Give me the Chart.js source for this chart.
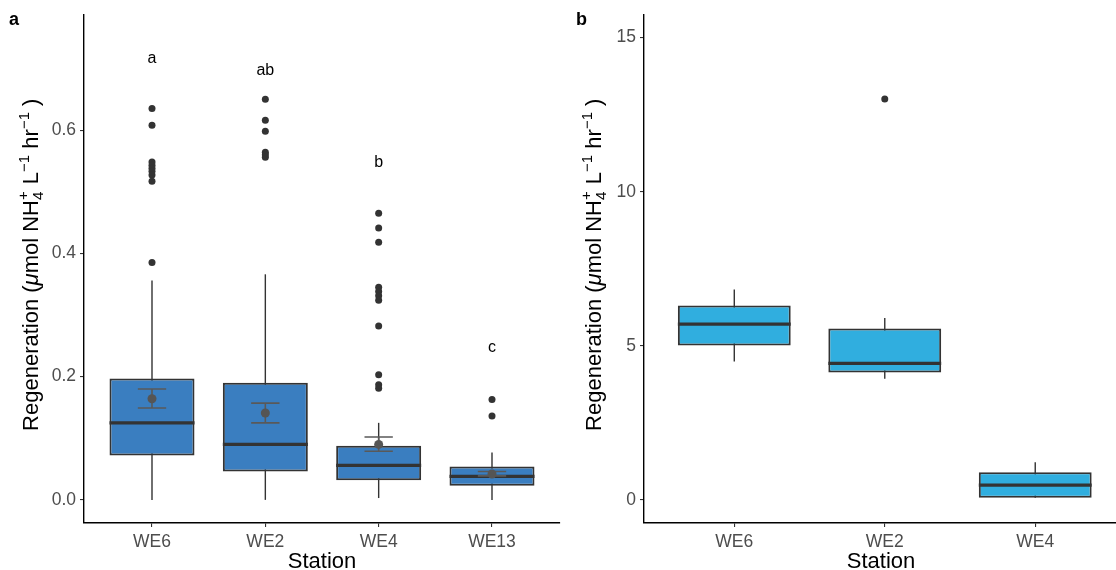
<!DOCTYPE html>
<html>
<head>
<meta charset="utf-8">
<script src="https://cdn.jsdelivr.net/npm/chart.js@4.4.0/dist/chart.umd.min.js"></script>
<style>
  body { margin: 0; background: #fff; width: 1116px; height: 570px; overflow: hidden; position: relative; }
  #chartA { position: absolute; left: 0; top: 0; }
  #chartB { position: absolute; left: 566px; top: 0; }
</style>
</head>
<body>
<canvas id="chartA" width="566" height="570"></canvas>
<canvas id="chartB" width="556" height="570"></canvas>
<script>
// panel a data
const stationsA = ["WE6", "WE2", "WE4", "WE13"];
const lowA = [0, 0, 0.003, 0];
const q1A = [0.072, 0.046, 0.032, 0.023];
const medA = [0.125, 0.090, 0.056, 0.038];
const q3A = [0.197, 0.190, 0.088, 0.054];
const highA = [0.356, 0.366, 0.125, 0.077];
const meanA = [0.164, 0.141, 0.090, 0.042];
const seLowA = [0.149, 0.125, 0.079, 0.039];
const seHighA = [0.180, 0.157, 0.102, 0.046];
const outliersA = [
  [0.635, 0.608, 0.548, 0.543, 0.538, 0.533, 0.527, 0.517, 0.385],
  [0.650, 0.616, 0.598, 0.564, 0.560, 0.556],
  [0.465, 0.441, 0.418, 0.345, 0.338, 0.331, 0.324, 0.282, 0.203, 0.187, 0.181],
  [0.163, 0.136]
];
const lettersA = ["a", "ab", "b", "c"];
const letterYA = [0.716, 0.697, 0.547, 0.247];
const yTicksA = [0, 0.2, 0.4, 0.6];

// panel b data
const stationsB = ["WE6", "WE2", "WE4"];
const lowB = [4.49, 3.93, 0.07];
const q1B = [5.01, 4.13, 0.07];
const medB = [5.70, 4.43, 0.48];
const q3B = [6.31, 5.56, 0.90];
const highB = [6.83, 5.90, 1.22];
const outliersB = [[], [13.01], []];
const yTicksB = [0, 5, 10, 15];

const FONT = "'Liberation Sans', Arial, sans-serif";
Chart.defaults.font.family = FONT;

// y axis title with the sub/superscripts
function drawYTitle(ctx, cx, cy) {
  const big = "22px " + FONT, bigIt = "italic 22px " + FONT, small = "15px " + FONT;
  const parts = [
    ["Regeneration (", big, 0],
    ["\u03BC", bigIt, 0],
    ["mol NH", big, 0],
    ["+|4", small, 0],
    [" L", big, 0],
    ["\u22121", small, -9],
    [" hr", big, 0],
    ["\u22121", small, -9],
    [" )", big, 0]
  ];
  const widths = parts.map(p => {
    ctx.font = p[1];
    if (p[0].includes("|")) return Math.max(...p[0].split("|").map(s => ctx.measureText(s).width)) + 1;
    return ctx.measureText(p[0]).width;
  });
  const total = widths.reduce((a, b) => a + b, 0);
  ctx.save();
  ctx.translate(cx, cy);
  ctx.rotate(-Math.PI / 2);
  ctx.fillStyle = "#000";
  ctx.textBaseline = "alphabetic";
  let pos = -total / 2;
  parts.forEach((p, i) => {
    ctx.font = p[1];
    if (p[0].includes("|")) {
      const [sup, sub] = p[0].split("|");
      ctx.fillText(sup, pos, 8 - 10);
      ctx.fillText(sub, pos, 8 + 5);
    } else {
      ctx.fillText(p[0], pos, 8 + p[2]);
    }
    pos += widths[i];
  });
  ctx.restore();
}

const boxExtras = {
  id: "boxExtras",
  beforeDatasetsDraw(chart, args, o) {
    const { ctx, scales: { x, y } } = chart;
    ctx.save();
    ctx.strokeStyle = "#333333";
    ctx.lineWidth = 1.4;
    o.low.forEach((lo, i) => {
      const px = x.getPixelForValue(i + 1);
      ctx.beginPath();
      ctx.moveTo(px, y.getPixelForValue(lo));
      ctx.lineTo(px, y.getPixelForValue(o.high[i]));
      ctx.stroke();
    });
    ctx.restore();
  },
  afterDatasetDraw(chart, args, o) {
    if (args.index !== 0) return;
    const { ctx, scales: { x, y } } = chart;
    ctx.save();
    ctx.strokeStyle = "#333333";
    ctx.lineWidth = 3.2;
    args.meta.data.forEach((bar, i) => {
      const { x: bx, width } = bar.getProps(["x", "width"], true);
      const py = y.getPixelForValue(o.med[i]);
      ctx.beginPath();
      ctx.moveTo(bx - width / 2, py);
      ctx.lineTo(bx + width / 2, py);
      ctx.stroke();
    });
    if (o.seLow) {
      ctx.strokeStyle = "#595959";
      ctx.lineWidth = 1.6;
      o.seLow.forEach((lo, i) => {
        const px = x.getPixelForValue(i + 1);
        const hw = x.getPixelForValue(i + 1.125) - px;
        const pl = y.getPixelForValue(lo), ph = y.getPixelForValue(o.seHigh[i]);
        ctx.beginPath();
        ctx.moveTo(px, pl); ctx.lineTo(px, ph);
        ctx.moveTo(px - hw, pl); ctx.lineTo(px + hw, pl);
        ctx.moveTo(px - hw, ph); ctx.lineTo(px + hw, ph);
        ctx.stroke();
      });
    }
    ctx.restore();
  },
  afterDraw(chart, args, o) {
    const { ctx, chartArea, scales: { x, y } } = chart;
    ctx.save();
    if (o.letters) {
      ctx.fillStyle = "#000";
      ctx.font = "16px " + FONT;
      ctx.textAlign = "center";
      ctx.textBaseline = "middle";
      o.letters.forEach((t, i) => {
        ctx.fillText(t, x.getPixelForValue(i + 1), y.getPixelForValue(o.letterY[i]));
      });
    }
    ctx.font = "bold 18px " + FONT;
    ctx.textAlign = "left";
    ctx.textBaseline = "middle";
    ctx.fillStyle = "#000";
    ctx.fillText(o.tag, o.tagX, 20);
    ctx.restore();
    drawYTitle(ctx, o.titleX, (chartArea.top + chartArea.bottom) / 2 - 4);
  }
};

function makeChart(id, cats, q1, q3, outl, mean, fill, yMin, yMax, yTicks, xMax, yWidth, padRight, extras, fmt) {
  const outlierPts = [];
  outl.forEach((arr, i) => arr.forEach(v => outlierPts.push({ x: i + 1, y: v })));
  const datasets = [{
    type: "bar",
    data: cats.map((c, i) => ({ x: i + 1, y: [q1[i], q3[i]] })),
    backgroundColor: fill,
    borderColor: "#333333",
    borderWidth: 2,
    borderSkipped: false,
    categoryPercentage: 1,
    barPercentage: 0.75,
    order: 3
  }, {
    type: "scatter",
    data: outlierPts,
    pointRadius: 3.5,
    backgroundColor: "#333333",
    borderWidth: 0,
    order: 2
  }];
  if (mean) {
    datasets.push({
      type: "scatter",
      data: mean.map((v, i) => ({ x: i + 1, y: v })),
      pointRadius: 4.5,
      backgroundColor: "#555555",
      borderWidth: 0,
      order: 1
    });
  }
  const axisCommon = {
    border: { display: true, color: "#000", width: 1.4 },
    grid: { display: true, offset: false, drawOnChartArea: false, drawTicks: true, tickLength: 4, color: "#333333", lineWidth: 1.1 },
  };
  return new Chart(document.getElementById(id), {
    type: "bar",
    data: { datasets },
    options: {
      responsive: false,
      devicePixelRatio: 1,
      animation: false,
      layout: { padding: { top: 12, right: padRight, left: 0, bottom: 0 } },
      plugins: { legend: { display: false }, tooltip: { enabled: false }, boxExtras: extras },
      scales: {
        x: {
          type: "linear", min: 0.4, max: xMax, offset: false,
          ...axisCommon,
          afterBuildTicks: s => { s.ticks = cats.map((c, i) => ({ value: i + 1 })); },
          afterFit: s => { s.height = 47; },
          ticks: { color: "#4d4d4d", font: { size: 17.5 }, padding: 5, callback: v => cats[v - 1] },
          title: { display: true, text: "Station", color: "#000", font: { size: 22 }, padding: { top: 0, bottom: -5 } }
        },
        y: {
          type: "linear", min: yMin, max: yMax,
          ...axisCommon,
          afterBuildTicks: s => { s.ticks = yTicks.map(v => ({ value: v })); },
          afterFit: s => { s.width = yWidth; },
          ticks: { color: "#4d4d4d", font: { size: 17.5 }, padding: 4, callback: fmt }
        }
      }
    },
    plugins: [boxExtras]
  });
}

makeChart("chartA", stationsA, q1A, q3A, outliersA, meanA, "#3A7EC0", -0.0375, 0.7875, yTicksA, 4.6, 84, 6,
  { low: lowA, high: highA, med: medA, seLow: seLowA, seHigh: seHighA, letters: lettersA, letterY: letterYA,
    tag: "a", tagX: 9, titleX: 30 }, v => v.toFixed(1));

makeChart("chartB", stationsB, q1B, q3B, outliersB, null, "#30AEDF", -0.75, 15.75, yTicksB, 3.55, 78, 0,
  { low: lowB, high: highB, med: medB, tag: "b", tagX: 10, titleX: 27 }, v => String(v));
</script>
</body>
</html>
